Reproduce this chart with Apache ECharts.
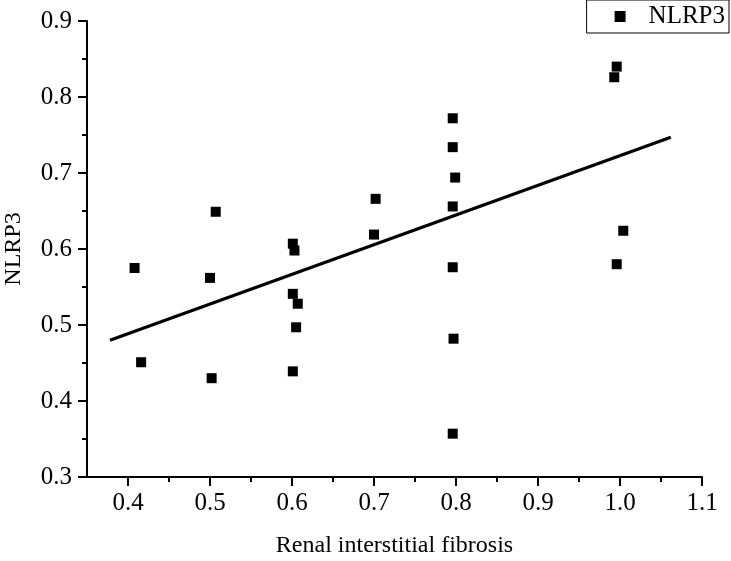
<!DOCTYPE html>
<html>
<head>
<meta charset="utf-8">
<script src="https://cdn.jsdelivr.net/npm/echarts@6/dist/echarts.min.js"></script>
<style>html,body{margin:0;padding:0;background:#fff}#c{width:731px;height:561px}</style>
</head>
<body>
<div id="c"></div>
<script>
// Data
const fibrosis = [0.408,0.416,0.500,0.507,0.502,0.601,0.603,0.601,0.607,0.605,0.601,0.702,0.700,0.796,0.796,0.799,0.796,0.796,0.797,0.796,0.996,0.993,1.004,0.996];
const nlrp3    = [0.575,0.451,0.562,0.649,0.430,0.607,0.598,0.541,0.528,0.497,0.439,0.666,0.619,0.772,0.734,0.694,0.656,0.576,0.482,0.357,0.840,0.826,0.624,0.580];
const fitX = [0.378, 1.062];
const fitY = [0.480, 0.747];
const xMajorTicks = [0.4,0.5,0.6,0.7,0.8,0.9,1.0,1.1];
const xMinorTicks = [0.45,0.55,0.65,0.75,0.85,0.95,1.05];
const seriesName = 'NLRP3';
const xTitle = 'Renal interstitial fibrosis';
const yTitle = 'NLRP3';

const font = "'Liberation Serif','Times New Roman',serif";
const chart = echarts.init(document.getElementById('c'), null, {renderer:'canvas'});
const axisLine = {show:true, lineStyle:{color:'#000', width:2}};
chart.setOption({
  animation:false,
  backgroundColor:'#fff',
  grid:{left:87, right:29, top:21, bottom:84, containLabel:false, outerBoundsMode:'none'},
  legend:{
    data:[seriesName], right:2, top:0,
    icon:'rect', itemWidth:11, itemHeight:11,
    borderColor:'#000', borderWidth:1, borderRadius:0,
    padding:[4,4,4,28],
    itemStyle:{opacity:1},
    textStyle:{fontFamily:font, fontSize:25, color:'#000', padding:[0,0,0,18]}
  },
  xAxis:[{
    type:'value', min:0.35, max:1.1,
    name:xTitle, nameLocation:'middle', nameGap:57,
    nameTextStyle:{fontFamily:font, fontSize:24, color:'#000'},
    axisLine:axisLine,
    axisTick:{show:true, customValues:xMajorTicks, length:9, lineStyle:{color:'#000', width:2}},
    axisLabel:{customValues:xMajorTicks, fontFamily:font, fontSize:25, color:'#000', margin:14,
      formatter:v=>v.toFixed(1)},
    splitLine:{show:false}
  },{
    type:'value', min:0.35, max:1.1, position:'bottom',
    axisLine:{show:false},
    axisTick:{show:true, customValues:xMinorTicks, length:5, lineStyle:{color:'#000', width:2}},
    axisLabel:{show:false},
    splitLine:{show:false}
  }],
  yAxis:{
    type:'value', min:0.3, max:0.9, interval:0.1,
    name:yTitle, nameLocation:'middle', nameGap:61, nameRotate:90,
    nameTextStyle:{fontFamily:font, fontSize:24, color:'#000'},
    axisLine:axisLine,
    axisTick:{show:true, length:9, lineStyle:{color:'#000', width:2}},
    minorTick:{show:true, splitNumber:2, length:5, lineStyle:{color:'#000', width:2}},
    axisLabel:{fontFamily:font, fontSize:25, color:'#000', margin:15, formatter:v=>v.toFixed(1)},
    splitLine:{show:false}
  },
  series:[{
    name:seriesName, type:'scatter', symbol:'rect', symbolSize:10,
    itemStyle:{color:'#000', opacity:1},
    data:fibrosis.map((x,i)=>[x, nlrp3[i]])
  },{
    name:'fit', type:'line', symbol:'none', silent:true,
    lineStyle:{color:'#000', width:3.2},
    data:fitX.map((x,i)=>[x, fitY[i]])
  }]
});
</script>
</body>
</html>
